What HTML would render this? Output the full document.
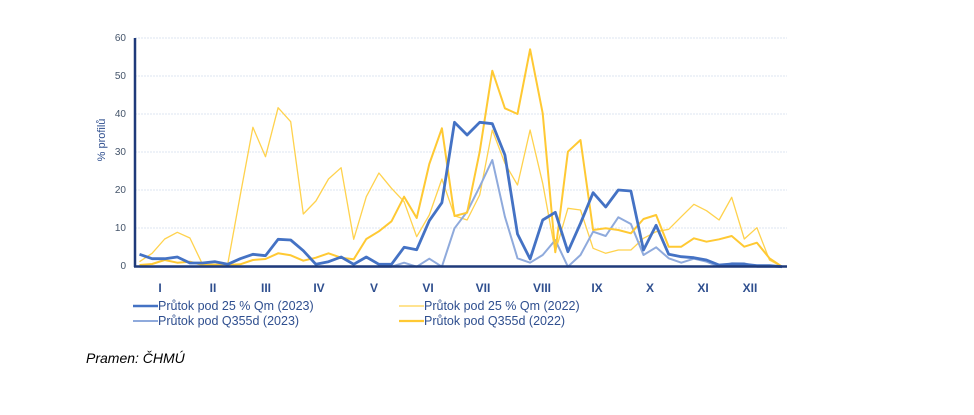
<!DOCTYPE html>
<html><head><meta charset="utf-8">
<style>
body{margin:0;background:#fff;width:974px;height:410px;overflow:hidden;font-family:"Liberation Sans",sans-serif}
</style></head><body>
<svg width="974" height="410" xmlns="http://www.w3.org/2000/svg" font-family="Liberation Sans, sans-serif">
<g stroke="#dce6f2" stroke-width="1" stroke-dasharray="2,1">
<line x1="135" x2="787" y1="38" y2="38"/><line x1="135" x2="787" y1="76" y2="76"/>
<line x1="135" x2="787" y1="114" y2="114"/><line x1="135" x2="787" y1="152" y2="152"/>
<line x1="135" x2="787" y1="190" y2="190"/><line x1="135" x2="787" y1="228" y2="228"/>
</g>
<g font-size="10" fill="#44546A" text-anchor="end">
<text x="126" y="41">60</text><text x="126" y="79">50</text><text x="126" y="117">40</text>
<text x="126" y="155">30</text><text x="126" y="193">20</text><text x="126" y="231">10</text><text x="126" y="269">0</text>
</g>
<text transform="translate(105,140) rotate(-90)" font-size="11" fill="#2F4F8F" text-anchor="middle">% profilů</text>
<g id="series" fill="none" stroke-linejoin="round"></g>
<line x1="135" y1="38" x2="135" y2="267" stroke="#1F3A7A" stroke-width="2.5"/>
<line x1="134" y1="266.5" x2="787" y2="266.5" stroke="#1F3A7A" stroke-width="2.5"/>
<g font-size="12" font-weight="bold" fill="#2F4F8F" text-anchor="middle">
<text x="160" y="292">I</text><text x="213" y="292">II</text><text x="266" y="292">III</text>
<text x="319" y="292">IV</text><text x="374" y="292">V</text><text x="428" y="292">VI</text>
<text x="483" y="292">VII</text><text x="542" y="292">VIII</text><text x="597" y="292">IX</text>
<text x="650" y="292">X</text><text x="703" y="292">XI</text><text x="750" y="292">XII</text>
</g>
<line x1="133" x2="158" y1="306" y2="306" stroke="#4472C4" stroke-width="2.5"/>
<line x1="133" x2="158" y1="321" y2="321" stroke="#8FAADC" stroke-width="2"/>
<line x1="399" x2="424" y1="306" y2="306" stroke="#FFD24D" stroke-width="1.2"/>
<line x1="399" x2="424" y1="321" y2="321" stroke="#FFC933" stroke-width="2.2"/>
<g font-size="12.5" fill="#2F4F8F">
<text x="158" y="310">Průtok pod 25 % Qm (2023)</text>
<text x="158" y="325">Průtok pod Q355d (2023)</text>
<text x="424" y="310">Průtok pod 25 % Qm (2022)</text>
<text x="424" y="325">Průtok pod Q355d (2022)</text>
</g>
<text x="86" y="363" font-size="14" font-style="italic" fill="#000">Pramen: ČHMÚ</text>
</svg>
<script>
function pts(a){return a.map(function(z,i){return (139.5+12.6*i).toFixed(1)+","+(z/3+20).toFixed(1)}).join(" ");}
var s=[
["#FFD24D",1.3,[725,700,657,637,654,733,733,733,525,322,410,263,305,582,543,477,443,658,530,459,505,545,650,585,477,587,600,525,330,430,495,330,490,695,565,570,685,700,690,690,655,635,628,590,553,572,600,532,657,623,720,740]],
["#8FAADC",2,[740,740,740,740,740,740,740,740,740,740,740,740,740,740,740,740,740,740,740,740,740,728,740,716,740,625,575,500,420,590,715,728,705,660,740,705,635,648,592,612,705,682,715,728,716,725,740,730,730,740,740,740]],
["#FFC933",2,[735,732,720,728,725,735,735,735,733,720,717,700,706,722,713,700,713,718,657,634,604,530,594,432,325,588,578,395,152,265,282,88,280,697,395,360,630,625,630,640,597,585,680,680,655,665,658,648,680,668,715,740]],
["#4472C4",2.8,[703,716,716,711,729,729,725,733,716,703,707,658,660,692,733,725,711,733,711,733,733,682,689,602,548,307,345,307,311,405,642,717,600,577,695,610,518,561,510,513,690,616,703,710,713,720,735,732,733,737,737,740]]
];
var g=document.getElementById("series"),h="";
s.forEach(function(x){h+='<polyline points="'+pts(x[2])+'" stroke="'+x[0]+'" stroke-width="'+x[1]+'"/>';});
g.innerHTML=h;
</script>
</body></html>
